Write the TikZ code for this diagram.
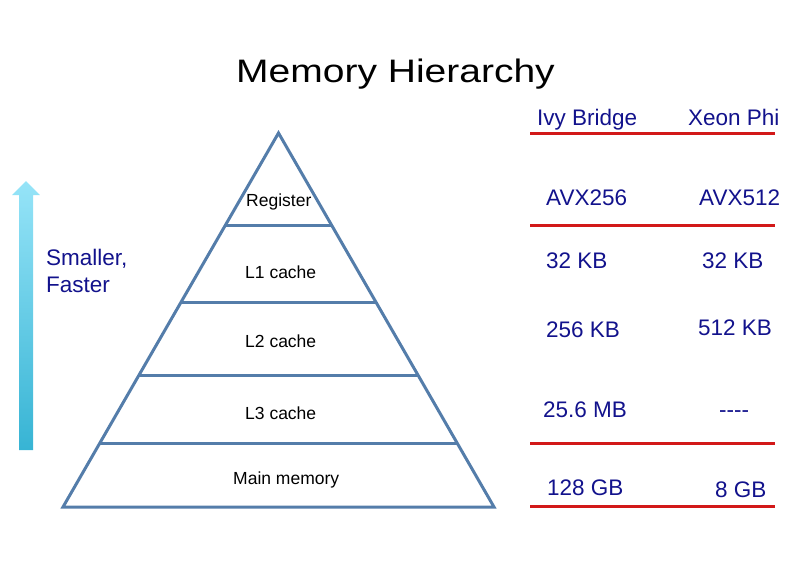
\documentclass[tikz,border=0pt]{standalone}
\usepackage{fontspec}
\setmainfont{Liberation Sans}
\newfontfamily\titlefont[FakeStretch=1.2]{Liberation Sans}
\definecolor{navytxt}{RGB}{18,18,140}
\definecolor{pyrblue}{RGB}{84,125,170}
\definecolor{sepred}{RGB}{210,24,24}
\definecolor{arrtop}{RGB}{150,228,248}
\definecolor{arrbot}{RGB}{55,180,212}
\begin{document}
\begin{tikzpicture}[x=1pt,y=-1pt,
  txt/.style={anchor=base west, inner sep=0pt, text=navytxt, font=\fontsize{22.5}{27}\selectfont},
  lbl/.style={anchor=base west, inner sep=0pt, text=black, font=\fontsize{17.5}{21}\selectfont},
  pyr/.style={draw=pyrblue, line width=3pt, line join=miter},
  sep/.style={draw=sepred, line width=3pt}]
\useasboundingbox (0,0) rectangle (792,576);

% title
\node[anchor=base, inner sep=0pt, font=\titlefont\fontsize{32.5}{39}\selectfont] (title) at (395.5,82) {Memory Hierarchy};

% arrow
\shade[top color=arrtop, bottom color=arrbot]
  (19,450) -- (19,195) -- (12,195) -- (26,181) -- (40,195) -- (33,195) -- (33,450) -- cycle;
\node[txt] (smaller) at (46,265) {Smaller,};
\node[txt] (faster) at (46,292) {Faster};

% pyramid
\draw[pyr] (278.5,133) -- (494,507) -- (63,507) -- cycle;
\draw[pyr] (225.5,225) -- (331.5,225);
\draw[pyr] (181,302) -- (376,302);
\draw[pyr] (139,375) -- (418,375);
\draw[pyr] (100,443) -- (457,443);
\node[lbl] (reg) at (246,206) {Register};
\node[lbl] (l1) at (245,278) {L1 cache};
\node[lbl] (l2) at (245,347) {L2 cache};
\node[lbl] (l3) at (245,419) {L3 cache};
\node[lbl] (mm) at (233,484) {Main memory};

% table
\node[txt] (ivy) at (537,125) {Ivy Bridge};
\node[txt] (xeon) at (688,125) {Xeon Phi};
\draw[sep] (530,133) -- (775,133);
\node[txt] (avx256) at (546,205) {AVX256};
\node[txt] (avx512) at (699,205) {AVX512};
\draw[sep] (530,225) -- (775,225);
\node[txt] (ivyl1) at (546,268) {32 KB};
\node[txt] (xeonl1) at (702,268) {32 KB};
\node[txt] (ivyl2) at (546,337) {256 KB};
\node[txt] (xeonl2) at (698,335) {512 KB};
\node[txt] (ivyl3) at (543,417) {25.6 MB};
\node[txt] (xeonl3) at (719,417) {-{}-{}-{}-};
\draw[sep] (530,443) -- (775,443);
\node[txt] (ivymm) at (547,495) {128 GB};
\node[txt] (xeonmm) at (715,497) {8 GB};
\draw[sep] (530,506) -- (775,506);
\end{tikzpicture}
\end{document}
